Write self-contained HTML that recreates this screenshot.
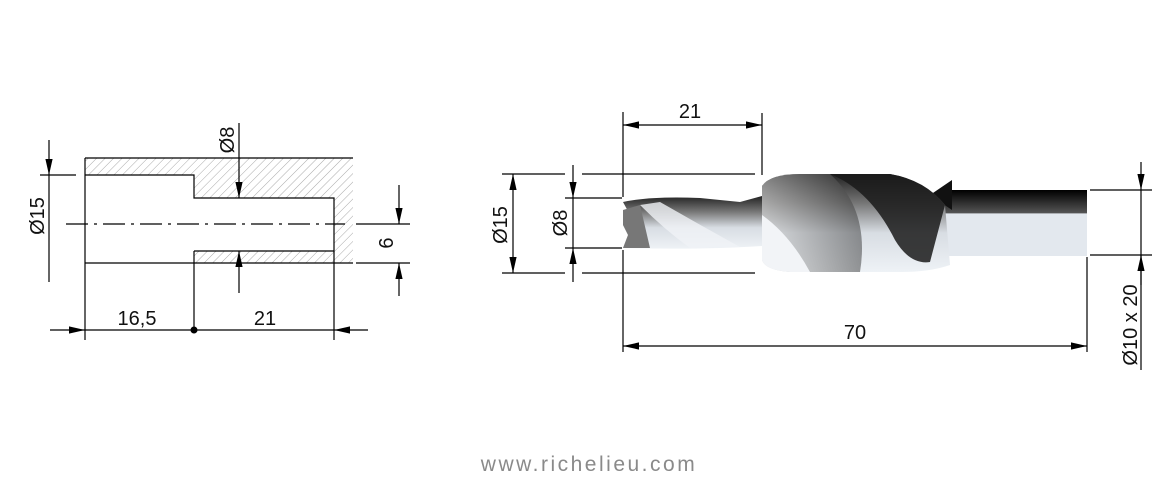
<!DOCTYPE html>
<html><head><meta charset="utf-8"><style>
html,body{margin:0;padding:0;background:#fff;}
svg{display:block;}
text{font-family:"Liberation Sans",sans-serif;fill:#111;}
</style></head><body>
<svg width="1176" height="479" viewBox="0 0 1176 479" xmlns="http://www.w3.org/2000/svg">
<defs>
<pattern id="h" patternUnits="userSpaceOnUse" width="6" height="6" patternTransform="rotate(45)">
<line x1="0" y1="0" x2="0" y2="6" stroke="#aaa" stroke-width="1"/>
</pattern>
<marker id="a" viewBox="0 0 10 10" refX="10" refY="5" markerWidth="16" markerHeight="8" preserveAspectRatio="none" markerUnits="userSpaceOnUse" orient="auto-start-reverse">
<path d="M0,0.5 L10,5 L0,9.5 z" fill="#000"/>
</marker>
<linearGradient id="g1" x1="0" y1="0" x2="0" y2="1">
<stop offset="0" stop-color="#222"/><stop offset="0.3" stop-color="#777"/><stop offset="0.6" stop-color="#d8dde3"/><stop offset="1" stop-color="#eef2f6"/>
</linearGradient>
<linearGradient id="g4" x1="0" y1="0" x2="1" y2="0">
<stop offset="0" stop-color="#ddd"/><stop offset="0.5" stop-color="#888"/><stop offset="1" stop-color="#333"/>
</linearGradient>
<linearGradient id="g3" x1="0" y1="0" x2="0" y2="1">
<stop offset="0" stop-color="#000"/><stop offset="0.35" stop-color="#555"/><stop offset="0.36" stop-color="#e3e8ee"/><stop offset="1" stop-color="#e3e8ee"/>
</linearGradient>
</defs>

<!-- LEFT DRAWING -->
<rect x="85" y="158" width="268" height="105" fill="url(#h)"/>
<rect x="85" y="175" width="109" height="88" fill="#fff"/>
<rect x="194" y="198" width="140" height="53" fill="#fff"/>
<g stroke="#000" stroke-width="1.2" fill="none">
<path d="M85,158 H353 M85,175 H194 V198 H334 V251 H194 M85,263 H353 M85,158 V340 M194,251 V330"/>
<line x1="334" y1="251" x2="334" y2="340"/>
<line x1="66" y1="224" x2="345" y2="224" stroke-dasharray="22,6,3,6"/>
<line x1="40" y1="175" x2="76" y2="175"/>
<line x1="49" y1="140" x2="49" y2="175" marker-end="url(#a)"/>
<line x1="49" y1="175" x2="49" y2="282"/>
<line x1="239" y1="123" x2="239" y2="198" marker-end="url(#a)"/>
<line x1="239" y1="293" x2="239" y2="251" marker-end="url(#a)"/>
<line x1="356" y1="224" x2="410" y2="224"/>
<line x1="356" y1="263" x2="410" y2="263"/>
<line x1="399" y1="185" x2="399" y2="224" marker-end="url(#a)"/>
<line x1="399" y1="296" x2="399" y2="263" marker-end="url(#a)"/>
<line x1="50" y1="330" x2="85" y2="330" marker-end="url(#a)"/>
<line x1="85" y1="330" x2="334" y2="330"/>
<line x1="368" y1="330" x2="334" y2="330" marker-end="url(#a)"/>
</g>
<circle cx="194" cy="330" r="3.5" fill="#000"/>
<text x="137" y="325" font-size="20" text-anchor="middle">16,5</text>
<text x="265" y="325" font-size="20" text-anchor="middle">21</text>
<text transform="translate(44,216) rotate(-90)" font-size="20" text-anchor="middle">Ø15</text>
<text transform="translate(234,140) rotate(-90)" font-size="20" text-anchor="middle">Ø8</text>
<text transform="translate(393,243) rotate(-90)" font-size="20" text-anchor="middle">6</text>

<!-- RIGHT DRAWING: drill -->
<rect x="943" y="190" width="144" height="66" fill="url(#g3)"/>
<path d="M930,195 L952,180 L952,210 Z" fill="#111"/>
<path d="M762,186 Q770,174 800,174 L890,174 Q925,180 945,205 L950,265 Q930,272 900,272 L790,272 Q765,270 762,260 Z" fill="url(#g1)"/>
<path d="M830,174 Q870,190 895,240 Q910,265 930,262 L945,205 Q925,180 890,174 Z" fill="#1a1a1a" opacity="0.85"/>
<path d="M762,186 Q770,174 800,174 L830,174 Q870,210 860,272 L790,272 Q765,270 762,260 Z" fill="url(#g4)" opacity="0.5"/>
<path d="M762,215 Q790,235 810,272 L790,272 Q765,270 762,260 Z" fill="#f2f4f7"/>
<path d="M623,202 Q650,196 700,198 L740,202 L762,196 L762,246 Q700,250 623,248 L628,235 L623,225 L630,215 Z" fill="url(#g1)"/>
<path d="M640,205 Q665,230 690,248 L740,247 Q700,225 660,202 Z" fill="#f0f3f6" opacity="0.8"/>
<path d="M623,210 L640,205 L650,248 L623,248 L628,235 L623,225 Z" fill="#777"/>

<g stroke="#000" stroke-width="1.2" fill="none">
<line x1="623" y1="112" x2="623" y2="197"/>
<line x1="762" y1="113" x2="762" y2="175"/>
<line x1="623" y1="125" x2="762" y2="125" marker-start="url(#a)" marker-end="url(#a)"/>
<line x1="502" y1="174" x2="565" y2="174"/>
<line x1="582" y1="174" x2="755" y2="174"/>
<line x1="502" y1="273" x2="565" y2="273"/>
<line x1="582" y1="273" x2="755" y2="273"/>
<line x1="513" y1="174" x2="513" y2="273" marker-start="url(#a)" marker-end="url(#a)"/>
<line x1="565" y1="198" x2="622" y2="198"/>
<line x1="565" y1="248" x2="622" y2="248"/>
<line x1="573" y1="165" x2="573" y2="198" marker-end="url(#a)"/>
<line x1="573" y1="198" x2="573" y2="248"/>
<line x1="573" y1="282" x2="573" y2="248" marker-end="url(#a)"/>
<line x1="623" y1="250" x2="623" y2="352"/>
<line x1="1087" y1="257" x2="1087" y2="352"/>
<line x1="623" y1="346" x2="1087" y2="346" marker-start="url(#a)" marker-end="url(#a)"/>
<line x1="1090" y1="190" x2="1152" y2="190"/>
<line x1="1090" y1="255" x2="1152" y2="255"/>
<line x1="1141" y1="162" x2="1141" y2="190" marker-end="url(#a)"/>
<line x1="1141" y1="190" x2="1141" y2="255"/>
<line x1="1141" y1="285" x2="1141" y2="255" marker-end="url(#a)"/>
<line x1="1141" y1="255" x2="1141" y2="370"/>
</g>
<text x="690" y="118" font-size="20" text-anchor="middle">21</text>
<text x="855" y="339" font-size="20" text-anchor="middle">70</text>
<text transform="translate(507,225) rotate(-90)" font-size="20" text-anchor="middle">Ø15</text>
<text transform="translate(567,223) rotate(-90)" font-size="20" text-anchor="middle">Ø8</text>
<text transform="translate(1137,325) rotate(-90)" font-size="20" text-anchor="middle">Ø10 x 20</text>

<text x="589" y="471" font-size="21" letter-spacing="2.5" style="fill:#8a8a8a" text-anchor="middle">www.richelieu.com</text>
</svg>
</body></html>
